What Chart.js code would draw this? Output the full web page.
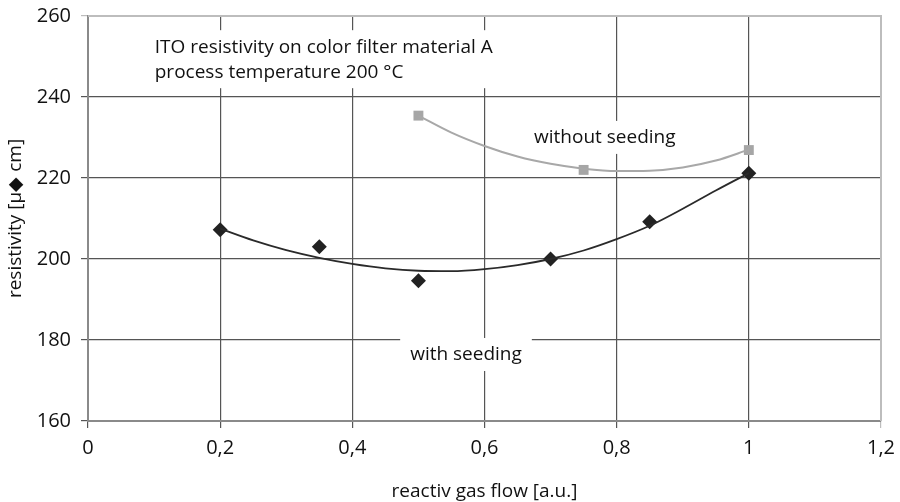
<!DOCTYPE html>
<html>
<head>
<meta charset="utf-8">
<script src="https://cdn.jsdelivr.net/npm/chart.js@4/dist/chart.umd.min.js"></script>
<style>
  html, body { margin: 0; padding: 0; background: #fff; }
  #wrap { width: 900px; height: 502px; }
</style>
</head>
<body>
<div id="wrap"><canvas id="chart"></canvas></div>
<script>
// measured points
const withSeedingX = [0.2, 0.35, 0.5, 0.7, 0.85, 1.0];
const withSeedingY = [207.2, 203.0, 194.6, 200.0, 209.2, 221.2];
const withoutSeedingX = [0.5, 0.75, 1.0];
const withoutSeedingY = [235.4, 222.0, 226.9];

// trend lines
const withFitX = [0.2, 0.25, 0.3, 0.35, 0.4, 0.45, 0.5, 0.55, 0.6, 0.65, 0.7, 0.75, 0.8, 0.85, 0.9, 0.95, 1.0];
const withFitY = [207.5, 204.6, 202.2, 200.3, 198.8, 197.7, 197.1, 197.0, 197.5, 198.5, 200.0, 202.1, 204.9, 208.2, 212.4, 216.9, 221.2];
const withoutFitX = [0.5, 0.55, 0.6, 0.65, 0.7, 0.75, 0.8, 0.85, 0.9, 0.95, 1.0];
const withoutFitY = [235.4, 231.2, 227.9, 225.3, 223.5, 222.3, 221.7, 221.8, 222.6, 224.3, 227.0];

const xTicks = [0, 0.2, 0.4, 0.6, 0.8, 1.0, 1.2];
const yTicks = [160, 180, 200, 220, 240, 260];

const FONT = "'Open Sans', 'Noto Sans', sans-serif";
const pts = (xs, ys) => xs.map((x, i) => ({ x: x, y: ys[i] }));

// text boxes on the plot (white background hides the grid)
const notes = [
  { lines: ['ITO resistivity on color filter material A', 'process temperature 200 °C'], x: 0.101, y: 252.3, align: 'left' },
  { lines: ['without seeding'], x: 0.782, y: 229.9, align: 'center' },
  { lines: ['with seeding'], x: 0.572, y: 176.3, align: 'center' }
];

const notesPlugin = {
  id: 'notes',
  beforeDatasetsDraw(chart) {
    const { ctx, scales } = chart;
    ctx.save();
    ctx.font = '19px ' + FONT;
    ctx.textBaseline = 'middle';
    notes.forEach(n => {
      const lh = 25;
      const w = Math.max(...n.lines.map(l => ctx.measureText(l).width));
      let left = scales.x.getPixelForValue(n.x);
      const mid = scales.y.getPixelForValue(n.y);
      if (n.align === 'center') left -= w / 2;
      const last = mid + (n.lines.length - 1) * lh;
      ctx.fillStyle = '#fff';
      ctx.fillRect(left - 10, mid - 17, w + 20, last - mid + 33);
      ctx.fillStyle = '#111';
      n.lines.forEach((l, i) => ctx.fillText(l, left, mid + i * lh));
    });
    ctx.restore();
  },
  afterDraw(chart) {
    const { ctx, chartArea: a } = chart;
    ctx.save();
    ctx.strokeStyle = '#bdbdbd';
    ctx.lineWidth = 2;
    ctx.beginPath();
    ctx.moveTo(a.left, a.top);
    ctx.lineTo(a.right, a.top);
    ctx.lineTo(a.right, a.bottom);
    ctx.stroke();
    ctx.restore();
  }
};

new Chart(document.getElementById('chart'), {
  type: 'scatter',
  data: {
    datasets: [
      {
        data: pts(withFitX, withFitY),
        showLine: true,
        borderColor: '#2a2a2a',
        borderWidth: 1.8,
        pointRadius: 0,
        cubicInterpolationMode: 'monotone'
      },
      {
        data: pts(withoutFitX, withoutFitY),
        showLine: true,
        borderColor: '#a8a8a8',
        borderWidth: 2,
        pointRadius: 0,
        cubicInterpolationMode: 'monotone'
      },
      {
        data: pts(withSeedingX, withSeedingY),
        pointStyle: 'rectRot',
        pointRadius: 7.5,
        backgroundColor: '#222',
        borderColor: '#222',
        borderWidth: 0
      },
      {
        data: pts(withoutSeedingX, withoutSeedingY),
        pointStyle: 'rect',
        pointRadius: 7,
        backgroundColor: '#a6a6a6',
        borderColor: '#a6a6a6',
        borderWidth: 0
      }
    ]
  },
  options: {
    responsive: true,
    maintainAspectRatio: false,
    animation: false,
    layout: { padding: { top: 16, right: 19, bottom: 0, left: 0 } },
    plugins: {
      legend: { display: false },
      tooltip: { enabled: false }
    },
    scales: {
      x: {
        type: 'linear',
        min: 0,
        max: 1.2,
        afterBuildTicks: s => { s.ticks = xTicks.map(v => ({ value: v })); },
        afterFit: s => { s.height = 81; s.paddingLeft = 0; s.paddingRight = 0; },
        grid: {
          color: c => (c.tick && c.tick.value === 1.2) ? '#bdbdbd' : '#555',
          lineWidth: 1.2,
          tickLength: 7
        },
        border: { color: '#8a8a8a', width: 2 },
        ticks: {
          color: '#111',
          font: { family: FONT, size: 20 },
          padding: 8,
          callback: v => String(v).replace('.', ',')
        },
        title: {
          display: true,
          text: 'reactiv gas flow [a.u.]',
          color: '#111',
          font: { family: FONT, size: 19 },
          padding: { top: 10, bottom: -1 }
        }
      },
      y: {
        min: 160,
        max: 260,
        afterBuildTicks: s => { s.ticks = yTicks.map(v => ({ value: v })); },
        afterFit: s => { s.width = 88; s.paddingTop = 0; s.paddingBottom = 0; },
        grid: {
          color: c => (c.tick && c.tick.value === 260) ? '#bdbdbd' : '#555',
          lineWidth: 1.2,
          tickLength: 7
        },
        border: { color: '#8a8a8a', width: 2 },
        ticks: {
          color: '#111',
          font: { family: FONT, size: 20 },
          padding: 10
        },
        title: {
          display: true,
          text: 'resistivity [µ◆ cm]',
          color: '#111',
          font: { family: FONT, size: 19 },
          padding: { top: 4, bottom: 4 }
        }
      }
    }
  },
  plugins: [notesPlugin]
});
</script>
</body>
</html>
